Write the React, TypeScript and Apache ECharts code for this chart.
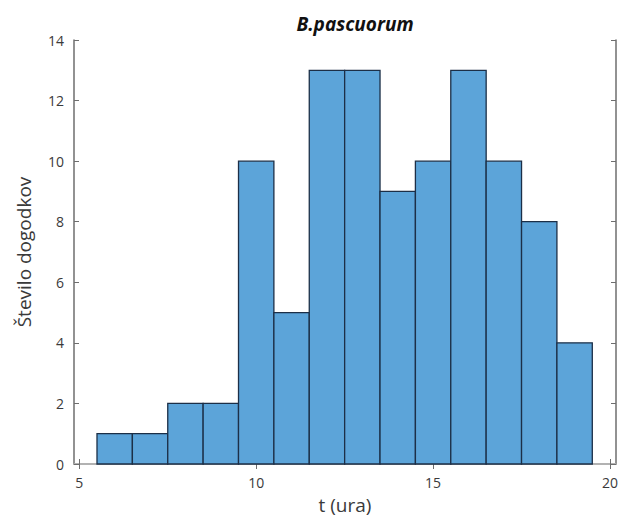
import React, { useEffect, useRef } from "react";
import * as echarts from "echarts";

const binEdges = [5.5, 6.5, 7.5, 8.5, 9.5, 10.5, 11.5, 12.5, 13.5, 14.5, 15.5, 16.5, 17.5, 18.5, 19.5];
const counts = [1, 1, 2, 2, 10, 5, 13, 13, 9, 10, 13, 10, 8, 4];
const xTicks = [5, 10, 15, 20];
const yTicks = [0, 2, 4, 6, 8, 10, 12, 14];
const titleText = "B.pascuorum";
const xName = "t (ura)";
const yName = "Število dogodkov";

const FONT = "'Open Sans', 'DejaVu Sans', sans-serif";
const AXIS = "#6e6e6e";
const LABEL = "#3a3a3a";

export default function App() {
  const ref = useRef<HTMLDivElement>(null);
  useEffect(() => {
    if (!ref.current) return;
    const chart = echarts.init(ref.current, undefined, { renderer: "svg" });
    const data = counts.map((c, i) => [binEdges[i], binEdges[i + 1], c]);
    const xMin = 4.85;
    const xMax = 20.17;
    const tickStyle = { show: true, inside: true, length: 5, lineStyle: { color: AXIS, width: 1 } };
    chart.setOption({
      animation: false,
      backgroundColor: "#ffffff",
      title: {
        text: titleText,
        left: 350,
        top: 9,
        textAlign: "center",
        textStyle: { fontFamily: FONT, fontSize: 19, fontWeight: "bold", fontStyle: "italic", color: "#111111" },
      },
      grid: { left: 74, right: 9, top: 40, bottom: 49, containLabel: false },
      xAxis: [
        {
          type: "value",
          min: xMin,
          max: xMax,
          name: xName,
          nameLocation: "middle",
          nameGap: 31,
          nameTextStyle: { fontFamily: FONT, fontSize: 19, color: LABEL },
          axisLine: { show: true, lineStyle: { color: AXIS, width: 1.5 } },
          axisTick: { ...tickStyle, customValues: xTicks },
          axisLabel: { customValues: xTicks, fontFamily: FONT, fontSize: 14, color: LABEL, margin: 11 },
          splitLine: { show: false },
        },
        {
          type: "value",
          position: "top",
          min: xMin,
          max: xMax,
          axisLine: { show: true, lineStyle: { color: "#bdbdbd", width: 1.5 } },
          axisTick: { ...tickStyle, customValues: xTicks },
          axisLabel: { show: false },
          splitLine: { show: false },
        },
      ],
      yAxis: [
        {
          type: "value",
          min: 0,
          max: 14,
          interval: 2,
          name: yName,
          nameLocation: "middle",
          nameGap: 41,
          nameTextStyle: { fontFamily: FONT, fontSize: 19, color: LABEL },
          axisLine: { show: true, lineStyle: { color: AXIS, width: 1.5 } },
          axisTick: { ...tickStyle, customValues: yTicks },
          axisLabel: { customValues: yTicks, fontFamily: FONT, fontSize: 14, color: LABEL, margin: 10 },
          splitLine: { show: false },
        },
        {
          type: "value",
          position: "right",
          min: 0,
          max: 14,
          interval: 2,
          axisLine: { show: true, lineStyle: { color: AXIS, width: 1.5 } },
          axisTick: { ...tickStyle, customValues: yTicks },
          axisLabel: { show: false },
          splitLine: { show: false },
        },
      ],
      series: [
        {
          type: "custom",
          xAxisIndex: 0,
          yAxisIndex: 0,
          data,
          encode: { x: [0, 1], y: 2 },
          renderItem: (params: any, api: any) => {
            const x0 = api.value(0);
            const x1 = api.value(1);
            const y = api.value(2);
            const p0 = api.coord([x0, y]);
            const p1 = api.coord([x1, 0]);
            return {
              type: "rect",
              shape: { x: p0[0], y: p0[1], width: p1[0] - p0[0], height: p1[1] - p0[1] },
              style: { fill: "#5ca4d9", stroke: "#1c2f47", lineWidth: 1.3 },
            };
          },
        },
      ],
    });
    return () => chart.dispose();
  }, []);
  return (
    <div
      ref={ref}
      style={{ position: "absolute", left: 0, top: 0, width: 625, height: 519 }}
    />
  );
}
